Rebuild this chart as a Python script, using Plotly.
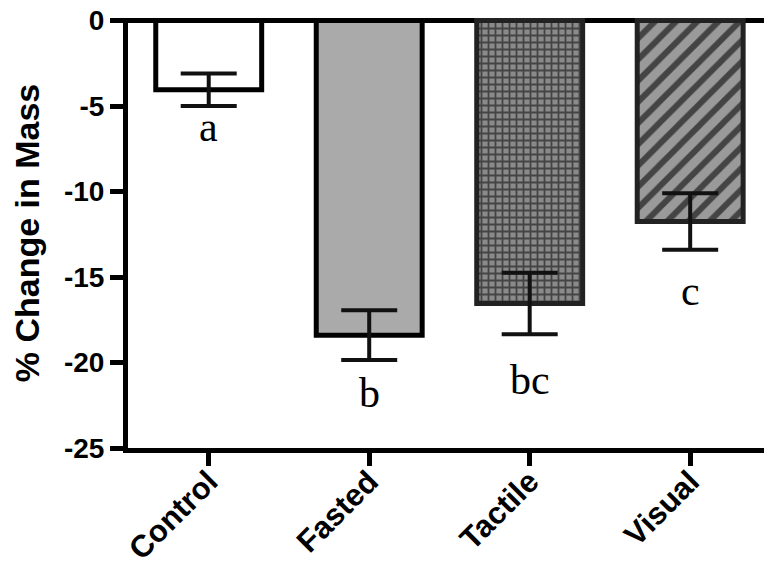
import plotly.graph_objects as go

categories = ["Control", "Fasted", "Tactile", "Visual"]
mean_change = [-4.05, -18.4, -16.55, -11.75]
sem = [0.95, 1.45, 1.8, 1.65]
letters = ["a", "b", "bc", "c"]
letter_y = [-6.2, -21.8, -21.0, -15.8]
y_ticks = [0, -5, -10, -15, -20, -25]

fill_colors = ["#ffffff", "#aaaaaa", "#8a8a8a", "#9a9a9a"]
line_colors = ["#000000", "#000000", "#222222", "#222222"]
pattern_shapes = ["", "", "+", "/"]
pattern_sizes = [8, 8, 7, 15]
pattern_solidity = [0.3, 0.3, 0.45, 0.4]

fig = go.Figure()
fig.add_trace(go.Bar(
    x=categories, y=mean_change, width=0.66,
    marker=dict(
        color=fill_colors,
        line=dict(color=line_colors, width=5),
        pattern=dict(shape=pattern_shapes, fgcolor="#141414", fgopacity=1, size=pattern_sizes,
                     solidity=pattern_solidity, fillmode="overlay"),
    ),
    error_y=dict(type="data", array=sem, visible=True, color="#111111", thickness=4, width=28),
))

for cat, txt, yy in zip(categories, letters, letter_y):
    fig.add_annotation(x=cat, y=yy, text=txt, showarrow=False,
                       font=dict(family="Liberation Serif", size=42, color="black"),
                       xanchor="center", yanchor="middle")

bold = dict(family="Liberation Sans", color="black", weight="bold")

fig.update_layout(
    width=764, height=569,
    margin=dict(l=128, r=0, t=18, b=121),
    plot_bgcolor="white", paper_bgcolor="white", showlegend=False,
    xaxis=dict(range=[-0.503, 3.46], showline=True, linecolor="black", linewidth=5,
               ticks="outside", ticklen=13, tickwidth=5, tickcolor="black",
               tickangle=-45, tickfont=dict(size=31, **bold), ticklabelstandoff=-15,
               showgrid=False, zeroline=False, automargin=False),
    yaxis=dict(range=[-25, 0.15], tickvals=y_ticks, ticktext=[str(v) for v in y_ticks],
               showline=True, linecolor="black", linewidth=5,
               ticks="outside", ticklen=13, tickwidth=5, tickcolor="black",
               tickfont=dict(size=28, **bold),
               showgrid=False, zeroline=True, zerolinecolor="black", zerolinewidth=5,
               automargin=False,
               title=dict(text="% Change in Mass", font=dict(size=34, **bold), standoff=16)),
)

fig.write_html("out.html")
